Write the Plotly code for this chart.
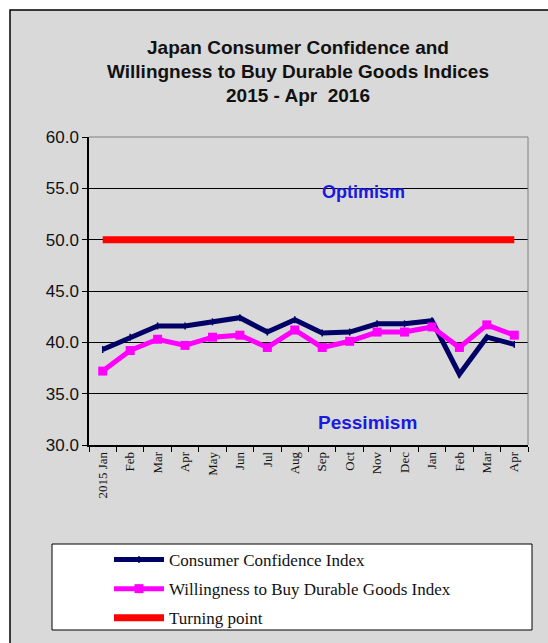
import plotly.graph_objects as go

# ---- data ----
month_labels = ["2015 Jan", "Feb", "Mar", "Apr", "May", "Jun", "Jul", "Aug",
                "Sep", "Oct", "Nov", "Dec", "Jan", "Feb", "Mar", "Apr"]
consumer_confidence = [39.3, 40.5, 41.6, 41.6, 42.0, 42.4, 41.0, 42.2,
                       40.9, 41.0, 41.8, 41.8, 42.1, 36.9, 40.5, 39.8]
willingness_durable = [37.2, 39.2, 40.3, 39.7, 40.5, 40.7, 39.5, 41.2,
                       39.5, 40.1, 41.0, 41.0, 41.5, 39.5, 41.7, 40.7]
turning_point = [50.0, 50.0, 50.0, 50.0, 50.0, 50.0, 50.0, 50.0,
                 50.0, 50.0, 50.0, 50.0, 50.0, 50.0, 50.0, 50.0]
y_ticks = [30, 35, 40, 45, 50, 55, 60]

x_idx = list(range(len(month_labels)))
boundaries = [i - 0.5 for i in range(len(month_labels) + 1)]

W, H = 548, 643
ML, MR, MT, MB = 89, 20, 137, 198
PW, PH = W - ML - MR, H - MT - MB


def px_x(p):
    return (p - ML) / PW


def px_y(p):
    return (H - MB - p) / PH


fig = go.Figure()

fig.add_trace(go.Scatter(
    x=x_idx, y=consumer_confidence, name="Consumer Confidence Index",
    mode="lines+markers", legendgroup="a",
    line=dict(color="#000066", width=5),
    marker=dict(symbol="line-ns", size=5, color="#000066",
                line=dict(color="#000066", width=1.5)),
))
fig.add_trace(go.Scatter(
    x=x_idx, y=willingness_durable, name="Willingness to Buy Durable Goods Index",
    mode="lines+markers", legendgroup="b",
    line=dict(color="#ff00ff", width=5),
    marker=dict(symbol="square", size=9, color="#ff00ff"),
))
fig.add_trace(go.Scatter(
    x=x_idx, y=turning_point, name="Turning point",
    mode="lines", legendgroup="c",
    line=dict(color="#ff0000", width=7),
))

shapes = [
    # outer chart frame
    dict(type="rect", xref="paper", yref="paper",
         x0=px_x(10), x1=px_x(570), y0=px_y(670), y1=px_y(10),
         fillcolor="#d9d9d9", line=dict(color="#000000", width=1.5), layer="below"),
    # legend box
    dict(type="rect", xref="paper", yref="paper",
         x0=px_x(52), x1=px_x(532), y0=px_y(630), y1=px_y(544),
         fillcolor="#ffffff", line=dict(color="#000000", width=1), layer="below"),
    # plot border top / right
    dict(type="line", xref="paper", yref="paper", x0=0, x1=1, y0=1, y1=1,
         line=dict(color="#808080", width=1)),
    dict(type="line", xref="paper", yref="paper", x0=1, x1=1, y0=0, y1=1,
         line=dict(color="#808080", width=1)),
]

title_lines = ["Japan Consumer Confidence and",
               "Willingness to Buy Durable Goods Indices",
               "2015 - Apr  2016"]
title_y = [47, 72, 96]
annotations = []
for t, ty in zip(title_lines, title_y):
    annotations.append(dict(
        text="<b>%s</b>" % t, xref="paper", yref="paper",
        x=px_x(298), y=px_y(ty), xanchor="center", yanchor="middle",
        showarrow=False, font=dict(family="Arial, Liberation Sans", size=19, color="#111111")))

annotations.append(dict(text="<b>Optimism</b>", xref="paper", yref="paper",
                        x=px_x(363), y=px_y(192), xanchor="center", yanchor="middle",
                        showarrow=False,
                        font=dict(family="Arial, Liberation Sans", size=18, color="#1a1ae0")))
annotations.append(dict(text="<b>Pessimism</b>", xref="paper", yref="paper",
                        x=px_x(367), y=px_y(422), xanchor="center", yanchor="middle",
                        showarrow=False,
                        font=dict(family="Arial, Liberation Sans", size=19, color="#1a1ae0")))

fig.update_layout(
    width=W, height=H,
    margin=dict(l=ML, r=MR, t=MT, b=MB, autoexpand=False),
    paper_bgcolor="#ffffff",
    plot_bgcolor="#c0c0c0",
    shapes=shapes,
    annotations=annotations,
    showlegend=True,
    legend=dict(
        x=px_x(109), y=px_y(542), xanchor="left", yanchor="top",
        bgcolor="rgba(0,0,0,0)", borderwidth=0,
        traceorder="grouped", tracegroupgap=4, itemwidth=50,
        font=dict(family="Liberation Serif, Times New Roman, serif", size=17, color="#111111"),
    ),
    xaxis=dict(
        range=[-0.5, len(month_labels) - 0.5],
        tickmode="array", tickvals=x_idx, ticktext=month_labels,
        tickangle=-90, ticks="", showgrid=False, zeroline=False,
        showline=True, linecolor="#000000", linewidth=1.5,
        tickfont=dict(family="Liberation Serif, Times New Roman, serif", size=13, color="#111111"),
        minor=dict(tickvals=boundaries, ticks="outside", ticklen=5,
                   tickcolor="#000000", tickwidth=1, showgrid=False),
    ),
    yaxis=dict(
        range=[30, 60], tickmode="array", tickvals=y_ticks,
        tickformat=".1f", ticks="outside", ticklen=5, tickcolor="#000000",
        showgrid=True, gridcolor="#000000", gridwidth=1, zeroline=False,
        showline=True, linecolor="#000000", linewidth=1.5,
        tickfont=dict(family="Arial, Liberation Sans", size=17, color="#111111"),
    ),
)

fig.write_html("out.html")
